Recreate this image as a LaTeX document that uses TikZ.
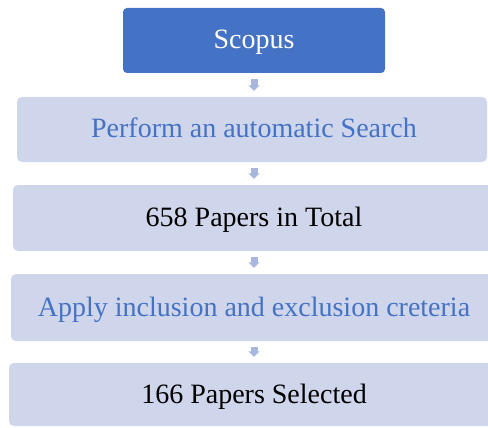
\documentclass[tikz,border=0pt]{standalone}
\usepackage{fontspec}
\setmainfont{Liberation Serif}
\usetikzlibrary{arrows.meta}
\definecolor{topblue}{HTML}{4472C4}
\definecolor{boxfill}{HTML}{CFD5EA}
\definecolor{arrowc}{HTML}{A9B7DE}
\tikzset{
  basebox/.style={rounded corners=5pt, minimum height=65pt, inner sep=0pt,
    text height=20pt, text depth=3pt,
    font=\fontsize{28}{33}\selectfont},
  topbox/.style={basebox, fill=topblue, text=white, rounded corners=4pt},
  lightbox/.style={basebox, fill=boxfill},
  flowarrow/.style={draw=arrowc, line width=7pt, shorten <=6pt, shorten >=6pt,
    -{Triangle[width=11pt,length=5.5pt]}},
}
\begin{document}
\begin{tikzpicture}[x=1pt,y=-1pt]
\useasboundingbox (0,0) rectangle (488,428);
\clip (0,0) rectangle (488,428);
\node[topbox, minimum width=262pt] (scopus) at (254,40.5) {Scopus};
\node[lightbox, minimum width=470pt, text=topblue] (search) at (252,129.5) {\hspace*{4pt}Perform an automatic Search};
\node[lightbox, minimum width=482pt, minimum height=66pt] (total) at (254,218) {658 Papers in Total};
\node[lightbox, minimum width=486pt, minimum height=67pt, text=topblue] (apply) at (254,307.5) {Apply inclusion and exclusion creteria};
\node[lightbox, minimum width=490pt, minimum height=63pt] (selected) at (254,394.5) {166 Papers Selected};
\draw[flowarrow] (scopus.south) -- (search.north -| scopus.south);
\draw[flowarrow] (search.south -| scopus.south) -- (total.north);
\draw[flowarrow] (total.south) -- (apply.north);
\draw[flowarrow] (apply.south) -- (selected.north);
\end{tikzpicture}
\end{document}
